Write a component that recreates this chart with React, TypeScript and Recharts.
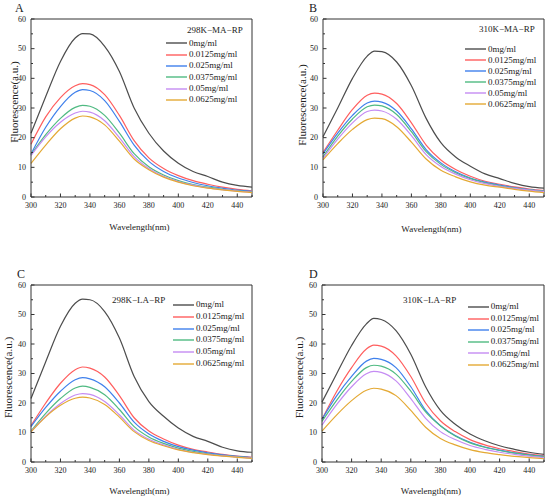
import React from 'react';
import { LineChart, Line, XAxis, YAxis, Legend, ReferenceLine } from 'recharts';

// wavelength grid (nm) and series names
const wavelengths = [300, 310, 320, 330, 335, 340, 350, 360, 370, 380, 390, 400, 410, 420, 430, 440, 450];
const concentrations = ['0mg/ml', '0.0125mg/ml', '0.025mg/ml', '0.0375mg/ml', '0.05mg/ml', '0.0625mg/ml'];
const xTicks = [300, 310, 320, 330, 340, 350, 360, 370, 380, 390, 400, 410, 420, 430, 440, 450];
const yTicks = [0, 5, 10, 15, 20, 25, 30, 35, 40, 45, 50, 55, 60];

// A: 298K-MA-RP
const ma298_0 = [21.5, 33.9, 45.7, 53.6, 55.1, 55.0, 50.8, 42.3, 30.0, 21.5, 15.5, 11.4, 8.6, 6.9, 5.0, 3.9, 3.3];
const ma298_1 = [17.8, 27.0, 33.5, 37.5, 38.2, 37.9, 34.5, 27.5, 19.0, 13.2, 9.6, 7.2, 5.5, 4.3, 3.3, 2.6, 2.1];
const ma298_2 = [14.5, 23.5, 30.5, 35.3, 36.2, 35.9, 32.5, 25.5, 17.5, 12.0, 8.6, 6.4, 4.9, 3.8, 3.0, 2.3, 1.9];
const ma298_3 = [14.2, 21.0, 26.5, 30.2, 30.9, 30.6, 27.5, 21.5, 14.6, 10.2, 7.4, 5.5, 4.2, 3.3, 2.6, 2.1, 1.7];
const ma298_4 = [14.0, 20.3, 25.2, 28.3, 28.9, 28.6, 25.7, 20.0, 13.6, 9.6, 7.0, 5.2, 4.0, 3.1, 2.5, 2.0, 1.6];
const ma298_5 = [11.3, 17.5, 23.0, 26.6, 27.3, 27.0, 24.3, 18.8, 12.8, 9.2, 6.7, 5.0, 3.8, 3.0, 2.4, 1.9, 1.5];

// B: 310K-MA-RP
const ma310_0 = [20.3, 30.0, 40.0, 47.5, 49.2, 49.0, 45.5, 37.5, 26.5, 18.3, 13.5, 10.4, 7.8, 6.2, 4.6, 3.5, 3.0];
const ma310_1 = [15.0, 22.5, 29.5, 34.3, 35.0, 34.7, 31.5, 25.0, 17.5, 12.5, 9.3, 7.0, 5.3, 4.3, 3.4, 2.7, 2.2];
const ma310_2 = [14.5, 21.5, 27.5, 31.7, 32.3, 32.0, 29.0, 23.0, 16.0, 11.5, 8.5, 6.4, 5.0, 4.0, 3.2, 2.5, 2.0];
const ma310_3 = [13.5, 20.5, 26.3, 30.4, 31.0, 30.7, 27.8, 22.0, 15.3, 11.0, 8.2, 6.2, 4.8, 3.8, 3.0, 2.4, 1.9];
const ma310_4 = [13.0, 19.5, 25.0, 28.8, 29.3, 29.0, 26.2, 20.7, 14.3, 10.3, 7.7, 5.8, 4.5, 3.6, 2.9, 2.3, 1.8];
const ma310_5 = [12.5, 18.0, 22.8, 26.1, 26.6, 26.4, 23.7, 18.5, 12.8, 9.0, 6.8, 5.1, 4.0, 3.3, 2.6, 2.0, 1.5];

// C: 298K-LA-RP
const la298_0 = [21.5, 34.0, 46.0, 53.8, 55.2, 55.0, 51.0, 42.0, 29.0, 20.5, 15.5, 11.5, 8.7, 7.0, 5.0, 3.8, 3.3];
const la298_1 = [12.3, 20.0, 26.7, 31.3, 32.2, 31.8, 28.8, 22.5, 15.0, 10.5, 7.8, 5.7, 4.3, 3.4, 2.6, 2.0, 1.6];
const la298_2 = [12.0, 18.5, 24.0, 27.9, 28.6, 28.2, 25.5, 20.0, 13.5, 9.5, 7.0, 5.2, 4.0, 3.1, 2.4, 1.9, 1.5];
const la298_3 = [10.5, 16.5, 21.5, 25.1, 25.7, 25.3, 22.8, 17.8, 12.0, 8.5, 6.3, 4.7, 3.6, 2.8, 2.2, 1.8, 1.4];
const la298_4 = [10.3, 15.5, 19.8, 22.7, 23.2, 22.9, 20.5, 16.0, 10.8, 7.7, 5.8, 4.3, 3.3, 2.6, 2.1, 1.7, 1.3];
const la298_5 = [10.2, 15.3, 19.2, 21.6, 22.0, 21.7, 19.5, 15.2, 10.3, 7.3, 5.5, 4.1, 3.2, 2.5, 2.0, 1.6, 1.2];

// D: 310K-LA-RP
const la310_0 = [20.3, 30.0, 39.5, 46.8, 48.7, 48.3, 44.5, 36.5, 25.5, 17.5, 12.8, 9.5, 7.2, 5.5, 4.3, 3.3, 2.6];
const la310_1 = [14.5, 24.0, 32.0, 38.3, 39.6, 39.3, 36.0, 29.0, 20.0, 14.0, 10.3, 7.6, 5.8, 4.5, 3.5, 2.7, 2.2];
const la310_2 = [14.5, 22.5, 29.0, 34.2, 35.1, 34.8, 32.0, 25.5, 17.5, 12.3, 9.0, 6.7, 5.1, 4.0, 3.1, 2.4, 1.9];
const la310_3 = [13.8, 21.0, 27.3, 32.0, 32.8, 32.5, 29.8, 24.0, 17.0, 12.3, 8.8, 6.5, 5.0, 3.9, 3.0, 2.3, 1.8];
const la310_4 = [12.5, 19.5, 25.5, 29.9, 30.7, 30.4, 27.5, 21.5, 14.8, 10.3, 7.6, 5.6, 4.3, 3.3, 2.6, 2.0, 1.5];
const la310_5 = [10.5, 16.0, 20.8, 24.3, 25.0, 24.7, 22.5, 17.5, 11.8, 8.0, 5.8, 4.2, 3.2, 2.5, 1.9, 1.5, 1.1];

const COLORS = ['#4d4d4d', '#ff5e5e', '#3f80ec', '#4fba82', '#c58cf3', '#e4a934'];
const FONT = "'Liberation Serif', 'Times New Roman', serif";
const AXIS = '#333';
const TEXT = '#222';

const buildRows = (series: number[][]) =>
  wavelengths.map((w, i) => {
    const row: Record<string, number> = { w };
    series.forEach((s, k) => { row[`s${k}`] = s[i]; });
    return row;
  });

// inward ticks, labels only on the major ones
const XTick = (props: any) => {
  const { x, y, payload } = props;
  const v = payload.value;
  const major = v % 20 === 0 && v < 450;
  return (
    <g>
      <line x1={x} y1={y} x2={x} y2={y - (major ? 3.5 : 2)} stroke={AXIS} strokeWidth={1} />
      {major && (
        <text x={x} y={y + 10.5} textAnchor="middle" fontSize={8} fontFamily={FONT} fill={TEXT}>{v}</text>
      )}
    </g>
  );
};

const YTick = (props: any) => {
  const { x, y, payload } = props;
  const v = payload.value;
  const major = v % 10 === 0;
  return (
    <g>
      <line x1={x} y1={y} x2={x + (major ? 3.5 : 2)} y2={y} stroke={AXIS} strokeWidth={1} />
      {major && (
        <text x={x - 5} y={y + 2.6} textAnchor="end" fontSize={8} fontFamily={FONT} fill={TEXT}>{v}</text>
      )}
    </g>
  );
};

type PanelCfg = {
  left: number;
  top: number;
  margin: { top: number; right: number; bottom: number; left: number };
  letter: string;
  letterX: number;
  letterY: number;
  title: string;
  titleX: number;
  titleY: number;
  legendX: number;
  legendY: number;
  rowH: number;
  yLabelDist: number;
  yLabelDy: number;
  xLabelDist: number;
  series: number[][];
};

const makeLegend = (cfg: PanelCfg) => (props: any) => {
  const payload = props.payload || [];
  const items = concentrations
    .map((c) => payload.find((p: any) => p.value === c))
    .filter(Boolean);
  const rowTop = cfg.legendY - cfg.rowH / 2;
  return (
    <div style={{ position: 'relative', fontFamily: FONT, fontSize: 9, color: TEXT }}>
      <div
        style={{
          position: 'absolute',
          left: cfg.titleX - cfg.legendX,
          top: cfg.titleY - rowTop - 6,
          lineHeight: '12px',
          whiteSpace: 'nowrap',
        }}
      >
        {cfg.title}
      </div>
      {items.map((p: any) => (
        <div key={p.value} style={{ display: 'flex', alignItems: 'center', height: cfg.rowH, whiteSpace: 'nowrap' }}>
          <svg width={21} height={4} style={{ marginRight: 2, display: 'block' }}>
            <line x1={0} y1={2} x2={21} y2={2} stroke={p.color} strokeWidth={1.4} />
          </svg>
          <span style={{ lineHeight: `${cfg.rowH}px` }}>{p.value}</span>
        </div>
      ))}
    </div>
  );
};

const makeYLabel = (cfg: PanelCfg) => (props: any) => {
  const vb = props.viewBox;
  const x = vb.x + vb.width - cfg.yLabelDist;
  const y = vb.y + vb.height / 2 + cfg.yLabelDy;
  return (
    <text x={x} y={y} transform={`rotate(-90 ${x} ${y})`} textAnchor="middle" dominantBaseline="central"
      fontSize={11} fontFamily={FONT} fill={TEXT}>
      Fluorescence(a.u.)
    </text>
  );
};

const makeXLabel = (cfg: PanelCfg) => (props: any) => {
  const vb = props.viewBox;
  const x = vb.x + vb.width / 2 - 2;
  const y = vb.y + cfg.xLabelDist;
  return (
    <text x={x} y={y} textAnchor="middle" dominantBaseline="central" fontSize={9} fontFamily={FONT} fill={TEXT}>
      Wavelength(nm)
    </text>
  );
};

const Panel = ({ cfg }: { cfg: PanelCfg }) => {
  const data = buildRows(cfg.series);
  return (
    <div style={{ position: 'absolute', left: cfg.left, top: cfg.top, width: 275, height: 251 }}>
      <LineChart width={275} height={251} data={data} margin={cfg.margin}>
        <XAxis
          dataKey="w"
          type="number"
          domain={[300, 450]}
          ticks={xTicks}
          interval={0}
          tick={XTick}
          tickLine={false}
          tickSize={0}
          tickMargin={0}
          axisLine={{ stroke: AXIS }}
          height={20}
          label={{ content: makeXLabel(cfg) }}
        />
        <YAxis
          type="number"
          domain={[0, 60]}
          ticks={yTicks}
          interval={0}
          tick={YTick}
          tickLine={false}
          tickSize={0}
          tickMargin={0}
          axisLine={{ stroke: AXIS }}
          width={30}
          label={{ content: makeYLabel(cfg) }}
        />
        <ReferenceLine y={60} stroke={AXIS} strokeWidth={1} />
        <ReferenceLine x={450} stroke={AXIS} strokeWidth={1} />
        {concentrations.map((c, k) => (
          <Line
            key={c}
            type="monotone"
            dataKey={`s${k}`}
            name={c}
            stroke={COLORS[k]}
            strokeWidth={1.2}
            dot={false}
            activeDot={false}
            isAnimationActive={false}
          />
        ))}
        <Legend
          layout="vertical"
          align="center"
          verticalAlign="middle"
          content={makeLegend(cfg)}
          wrapperStyle={{ left: cfg.legendX, top: cfg.legendY - cfg.rowH / 2, width: 'auto', height: 'auto' }}
        />
      </LineChart>
      <div
        style={{
          position: 'absolute',
          left: cfg.letterX,
          top: cfg.letterY - 10.5,
          fontFamily: FONT,
          fontSize: 12,
          lineHeight: '12px',
          color: TEXT,
        }}
      >
        {cfg.letter}
      </div>
    </div>
  );
};

const panels: PanelCfg[] = [
  {
    left: 0, top: 0,
    margin: { top: 19, right: 23, bottom: 34, left: 1 },
    letter: 'A', letterX: 15, letterY: 12.5,
    title: '298K\u2212MA\u2212RP', titleX: 187, titleY: 29.5,
    legendX: 166, legendY: 43.3, rowH: 11.33,
    yLabelDist: 17, yLabelDy: -6, xLabelDist: 29.7,
    series: [ma298_0, ma298_1, ma298_2, ma298_3, ma298_4, ma298_5],
  },
  {
    left: 275, top: 0,
    margin: { top: 19, right: 6, bottom: 34, left: 18 },
    letter: 'B', letterX: 34, letterY: 12.5,
    title: '310K\u2212MA\u2212RP', titleX: 204, titleY: 29.3,
    legendX: 190, legendY: 49, rowH: 11,
    yLabelDist: 21, yLabelDy: -3, xLabelDist: 32,
    series: [ma310_0, ma310_1, ma310_2, ma310_3, ma310_4, ma310_5],
  },
  {
    left: 0, top: 251,
    margin: { top: 34, right: 23, bottom: 20, left: 1 },
    letter: 'C', letterX: 17, letterY: 27.5,
    title: '298K\u2212LA\u2212RP', titleX: 112, titleY: 49.3,
    legendX: 173, legendY: 54.3, rowH: 11.67,
    yLabelDist: 22.7, yLabelDy: 4, xLabelDist: 28.7,
    series: [la298_0, la298_1, la298_2, la298_3, la298_4, la298_5],
  },
  {
    left: 275, top: 251,
    margin: { top: 34, right: 6, bottom: 20, left: 17 },
    letter: 'D', letterX: 34, letterY: 27.5,
    title: '310K\u2212LA\u2212RP', titleX: 128, titleY: 49.3,
    legendX: 192.7, legendY: 56, rowH: 11.6,
    yLabelDist: 23, yLabelDy: 4, xLabelDist: 28.7,
    series: [la310_0, la310_1, la310_2, la310_3, la310_4, la310_5],
  },
];

export default function App() {
  return (
    <div style={{ position: 'absolute', left: 0, top: 0, width: 550, height: 502, background: '#fff' }}>
      {panels.map((p) => (
        <Panel key={p.letter} cfg={p} />
      ))}
    </div>
  );
}
